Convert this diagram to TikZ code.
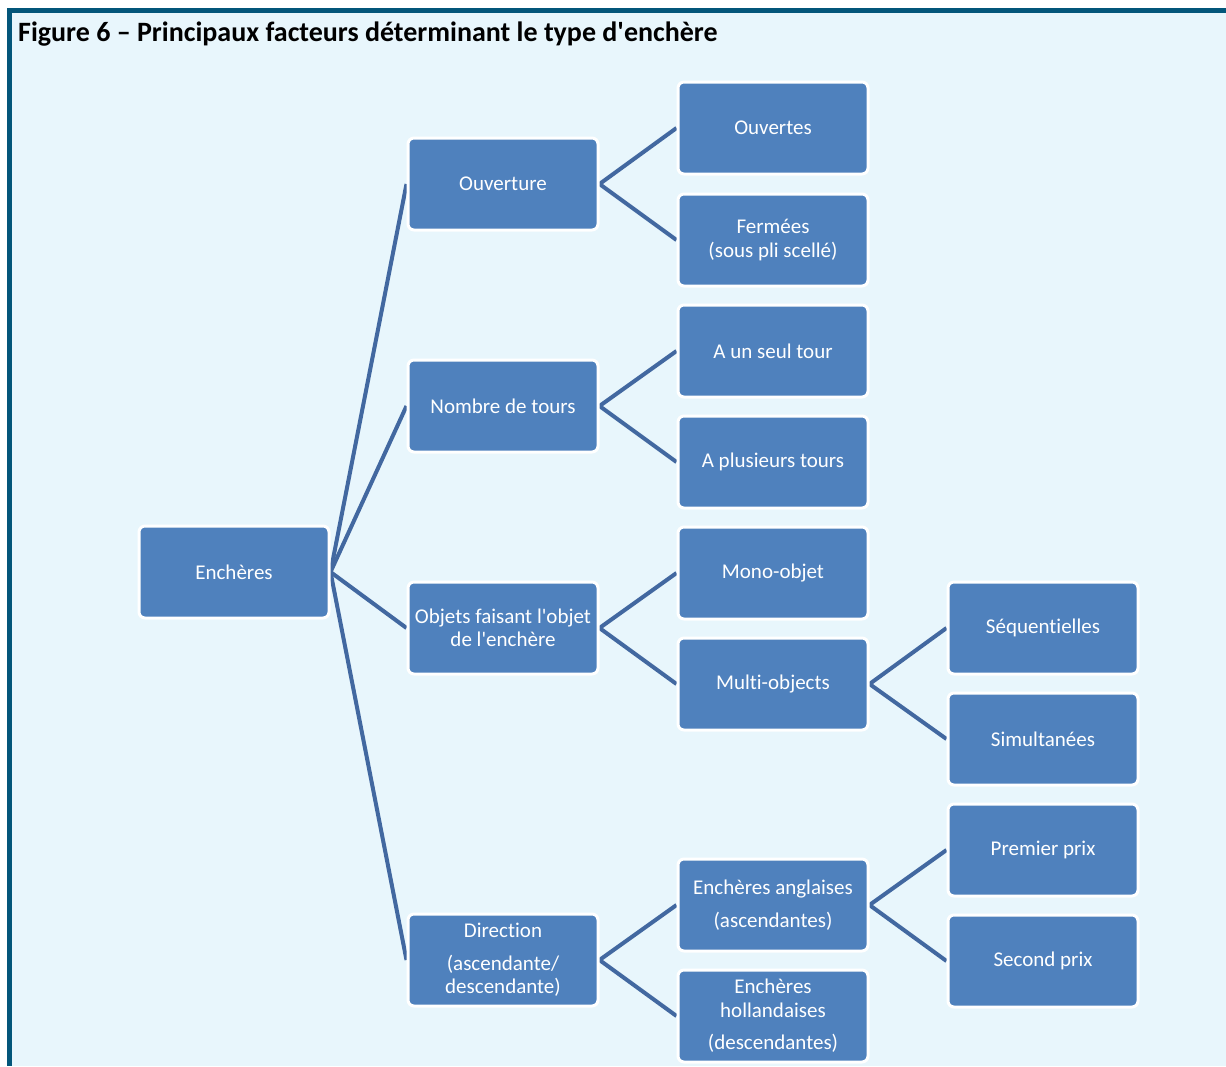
\documentclass[tikz,border=0pt]{standalone}
\usepackage{fontspec}
\setmainfont{Carlito}[Ligatures={TeX,NoCommon}]
\definecolor{panel}{HTML}{E8F6FC}
\definecolor{frame}{HTML}{03567A}
\definecolor{boxfill}{HTML}{4F81BD}
\definecolor{link}{HTML}{4268A0}
\pgfdeclarelayer{bg}
\pgfdeclarelayer{lines}
\pgfsetlayers{bg,lines,main}
\newcommand{\apos}{\textquotesingle}
\begin{document}
\begin{tikzpicture}[x=1pt,y=-1pt,
  item/.style={draw=white, line width=3pt, fill=boxfill, rounded corners=6pt,
    minimum width=190pt, minimum height=92pt, text=white, align=center,
    inner sep=2pt, font=\fontsize{21}{23.5}\selectfont},
  branch/.style={draw=link, line width=4pt}]
\useasboundingbox (0,0) rectangle (1226,1066);
\begin{pgfonlayer}{bg}
  \fill[panel] (7,8) rectangle (1226,1066);
  \fill[frame] (7,8) rectangle (1226,13);
  \fill[frame] (7,8) rectangle (12,1066);
\end{pgfonlayer}
\node[anchor=west, inner sep=0pt, font=\bfseries\fontsize{28}{32}\selectfont] (title) at (18,34) {Figure 6 – Principaux facteurs déterminant le type d\apos enchère};
% root
\node[item] (enc) at (234,572) {Enchères};
% factors
\node[item] (ouv) at (503,184) {Ouverture};
\node[item] (nbt) at (503,406) {Nombre de tours};
\node[item] (obj) at (503,628) {Objets faisant l\apos objet\\de l\apos enchère};
\node[item] (dir) at (503,960) {Direction\\[9pt](ascendante/\\descendante)};
% second level
\node[item] (ouvx) at (773,128) {Ouvertes};
\node[item] (fer) at (773,240) {Fermées\\(sous pli scellé)};
\node[item] (un) at (773,351) {A un seul tour};
\node[item] (plu) at (773,462) {A plusieurs tours};
\node[item] (mono) at (773,573) {Mono-objet};
\node[item] (multi) at (773,684) {Multi-objects};
\node[item] (ang) at (773,905) {Enchères anglaises\\[9pt](ascendantes)};
\node[item] (hol) at (773,1016) {Enchères\\hollandaises\\[9pt](descendantes)};
% third level
\node[item] (seq) at (1043,628) {Séquentielles};
\node[item] (sim) at (1043,739) {Simultanées};
\node[item] (pre) at (1043,850) {Premier prix};
\node[item] (sec) at (1043,961) {Second prix};
% connectors
\begin{pgfonlayer}{lines}
  \foreach \c in {ouv,nbt,obj,dir} \draw[branch] (enc.east) -- (\c.west);
  \draw[branch] (ouv.east) -- (ouvx.west);
  \draw[branch] (ouv.east) -- (fer.west);
  \draw[branch] (nbt.east) -- (un.west);
  \draw[branch] (nbt.east) -- (plu.west);
  \draw[branch] (obj.east) -- (mono.west);
  \draw[branch] (obj.east) -- (multi.west);
  \draw[branch] (multi.east) -- (seq.west);
  \draw[branch] (multi.east) -- (sim.west);
  \draw[branch] (dir.east) -- (ang.west);
  \draw[branch] (dir.east) -- (hol.west);
  \draw[branch] (ang.east) -- (pre.west);
  \draw[branch] (ang.east) -- (sec.west);
\end{pgfonlayer}
\end{tikzpicture}
\end{document}
